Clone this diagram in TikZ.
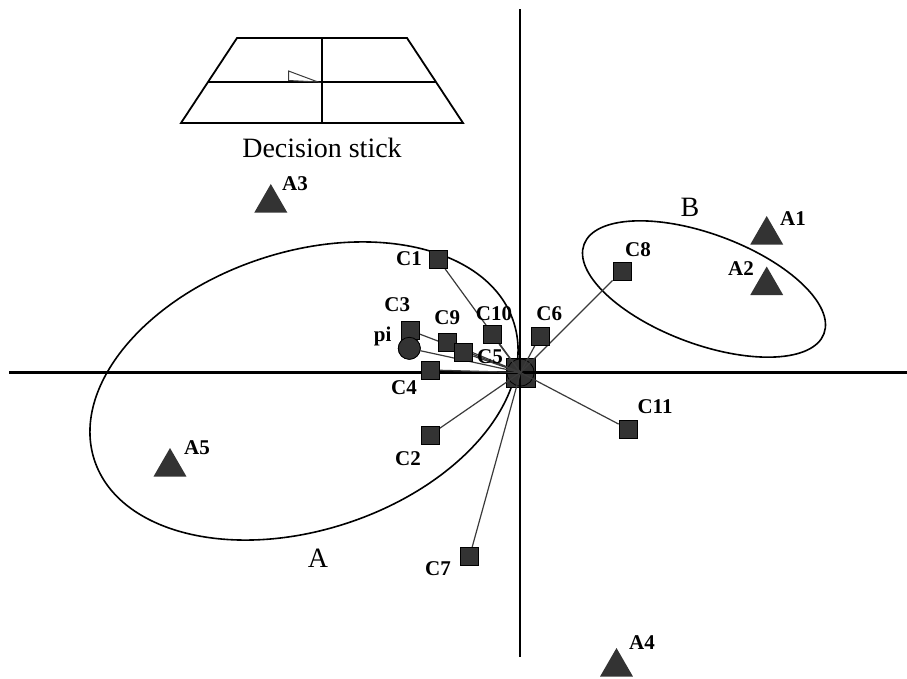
\documentclass[tikz,border=0pt]{standalone}
\usepackage{fontspec}
\setmainfont{Liberation Serif}
\usetikzlibrary{shapes.geometric}
\definecolor{mark}{HTML}{333333}
\definecolor{link}{HTML}{3A3A3A}
\tikzset{
  sq/.style={draw=black, fill=mark, minimum size=18pt, inner sep=0pt, line width=0.8pt},
  tri/.style={regular polygon, regular polygon sides=3, fill=mark, minimum size=38pt, inner sep=0pt},
  lab/.style={font=\fontsize{21}{23}\selectfont\bfseries, inner sep=0pt},
  big/.style={font=\fontsize{28}{30}\selectfont, inner sep=0pt},
  axis/.style={line width=2.8pt},
  link/.style={draw=link, line width=1.2pt},
  ell/.style={line width=1.6pt},
  stick/.style={line width=1.8pt}
}
\begin{document}
\begin{tikzpicture}[x=1pt, y=-1pt]
\useasboundingbox (0,0) rectangle (907,679);
% decision stick
\coordinate (t1) at (237,38); \coordinate (t2) at (407,38);
\coordinate (b1) at (181,123); \coordinate (b2) at (463,123);
\coordinate (m1) at (208,82); \coordinate (m2) at (436,82);
\coordinate (v1) at (322,38); \coordinate (v2) at (322,123);
\draw[stick, line join=miter] (t1) -- (t2) -- (b2) -- (b1) -- cycle;
\draw[stick] (m1) -- (m2);
\draw[stick] (v1) -- (v2);
\coordinate (s1) at (288.5,71); \coordinate (s2) at (288.5,80.5); \coordinate (s3) at (318,82);
\draw[draw=link, line width=1pt] (s3) -- (s1) -- (s2) -- cycle;
\node[big] (ds) at (322,148) {Decision stick};
% ellipses
\draw[ell, rotate around={18.3:(304,391)}] (304,391) ellipse [x radius=220.7pt, y radius=139pt];
\draw[ell, rotate around={-20.4:(704,289)}] (704,289) ellipse [x radius=128pt, y radius=55pt];
\node[big] (lA) at (318,558) {A};
\node[big] (lB) at (690,207) {B};
% centre
\node[sq, minimum size=29pt] (O) at (520.5,372.5) {};
\node[circle, draw=black, line width=0.8pt, minimum size=27pt, inner sep=0pt] (Oc) at (520.5,372.5) {};
% axes
\coordinate (xl) at (9.3,372.7); \coordinate (xr) at (907,372.7);
\coordinate (yt) at (520,9.3); \coordinate (yb) at (520,656.7);
\draw[axis] (xl) -- (xr);
\draw[axis] (yt) -- (yb);
% C nodes
\node[sq] (C1) at (438.3,259.5) {};
\node[sq] (C3) at (410.3,330.5) {};
\node[circle, draw=black, fill=mark, minimum size=22pt, inner sep=0pt, line width=0.8pt] (pi) at (409.3,348.3) {};
\node[sq] (C9) at (447.2,342) {};
\node[sq] (C10) at (492,334.7) {};
\node[sq] (C5) at (463.8,352.8) {};
\node[sq] (C6) at (540,336) {};
\node[sq] (C4) at (430,370) {};
\node[sq] (C2) at (430,435) {};
\node[sq] (C7) at (469.5,556.7) {};
\node[sq] (C8) at (622,271) {};
\node[sq] (C11) at (628,429) {};
% links
\foreach \n in {C1,C3,pi,C9,C10,C5,C6,C4,C2,C7,C8,C11}
  \draw[link] (O.center) -- (\n);
% redraw nodes on top of links
\node[sq] at (C1) {};
\node[sq] at (C3) {};
\node[circle, draw=black, fill=mark, minimum size=22pt, inner sep=0pt, line width=0.8pt] at (pi) {};
\node[sq] at (C9) {};
\node[sq] at (C10) {};
\node[sq] at (C5) {};
\node[sq] at (C6) {};
\node[sq] at (C4) {};
\node[sq] at (C2) {};
\node[sq] at (C7) {};
\node[sq] at (C8) {};
\node[sq] at (C11) {};
% C labels
\node[lab] (lC1) at (409,258.3) {C1};
\node[lab] (lC3) at (397.3,305) {C3};
\node[lab] (lpi) at (382.7,336.7) {pi};
\node[lab] (lC9) at (447.3,317.3) {C9};
\node[lab] (lC10) at (494,314) {C10};
\node[lab] (lC5) at (490,356.7) {C5};
\node[lab] (lC6) at (549.3,314) {C6};
\node[lab] (lC4) at (404,388) {C4};
\node[lab] (lC2) at (408,459) {C2};
\node[lab] (lC7) at (438,569) {C7};
\node[lab] (lC8) at (638,250) {C8};
\node[lab] (lC11) at (655,407) {C11};
% triangles
\node[tri] (A1) at (766.7,235) {};
\node[tri] (A2) at (766.7,285.5) {};
\node[tri] (A3) at (270.8,203) {};
\node[tri] (A4) at (616.5,667) {};
\node[tri] (A5) at (170,467) {};
\node[lab] (lA1) at (793,219) {A1};
\node[lab] (lA2) at (741,269) {A2};
\node[lab] (lA3) at (295,184) {A3};
\node[lab] (lA4) at (642,643) {A4};
\node[lab] (lA5) at (197,448) {A5};
\end{tikzpicture}
\end{document}
